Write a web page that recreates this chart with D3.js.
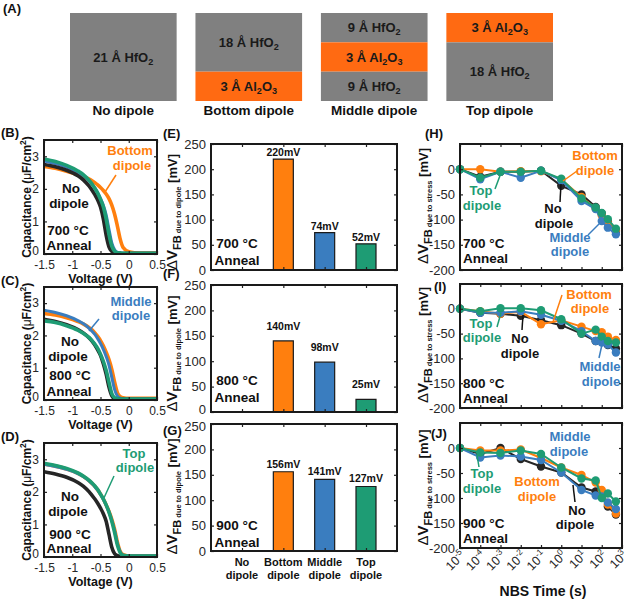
<!DOCTYPE html>
<html><head><meta charset="utf-8">
<script src="https://cdn.jsdelivr.net/npm/d3@7"></script>
<style>body{margin:0;background:#fff}svg text{font-family:"Liberation Sans",Arial,sans-serif}</style>
</head><body><svg id="c" width="631" height="601"></svg>
<script>
// ---------------- DATA ----------------
const dipoleTypes = ["No dipole","Bottom dipole","Middle dipole","Top dipole"];
const annealTemps = ["700 °C","800 °C","900 °C"];
const stackNames = ["No dipole","Bottom dipole","Middle dipole","Top dipole"];
const stackLayers = [
  [["HfO2",21]],
  [["HfO2",18],["Al2O3",3]],
  [["HfO2",9],["Al2O3",3],["HfO2",9]],
  [["Al2O3",3],["HfO2",18]]
];
const voltage = [-1.5,-1.3,-1.1,-0.9,-0.8,-0.7,-0.65,-0.6,-0.55,-0.5,-0.45,-0.4,-0.35,-0.3,-0.25,-0.2,-0.15,-0.1,0,0.1,0.3,0.5];
const cvTicksX = [-1.5,-1,-0.5,0,0.5];
const cvTicksY = [0,1,2,3];
// 700 °C
const cv700No     = [2.75,2.68,2.57,2.40,2.27,2.08,1.96,1.82,1.66,1.44,1.08,0.58,0.22,0.08,0.03,0.02,0.02,0.01,0.01,0.01,0.01,0.01];
const cv700Bottom = [2.69,2.63,2.54,2.43,2.37,2.30,2.25,2.19,2.12,2.04,1.95,1.84,1.70,1.50,1.22,0.85,0.45,0.20,0.07,0.04,0.03,0.03];
const cv700Middle = [2.86,2.78,2.67,2.51,2.40,2.24,2.14,2.02,1.88,1.70,1.50,1.20,0.76,0.34,0.13,0.05,0.03,0.02,0.02,0.02,0.02,0.02];
const cv700Top    = [2.92,2.84,2.72,2.55,2.43,2.26,2.15,2.02,1.87,1.68,1.45,1.08,0.60,0.24,0.09,0.04,0.03,0.02,0.02,0.02,0.02,0.02];
// 800 °C
const cv800No     = [2.50,2.43,2.33,2.18,2.07,1.92,1.82,1.70,1.55,1.38,1.12,0.80,0.40,0.13,0.04,0.02,0.02,0.02,0.02,0.02,0.02,0.02];
const cv800Bottom = [2.68,2.63,2.55,2.43,2.35,2.24,2.17,2.08,1.97,1.84,1.68,1.48,1.25,0.95,0.55,0.22,0.10,0.07,0.05,0.05,0.05,0.05];
const cv800Middle = [2.78,2.71,2.61,2.46,2.36,2.22,2.13,2.03,1.90,1.75,1.57,1.35,1.08,0.70,0.32,0.12,0.06,0.04,0.03,0.03,0.03,0.03];
const cv800Top    = [2.45,2.40,2.30,2.16,2.06,1.93,1.84,1.73,1.60,1.42,1.20,0.92,0.55,0.20,0.07,0.04,0.03,0.03,0.03,0.03,0.03,0.03];
// 900 °C
const cv900No     = [2.62,2.55,2.45,2.29,2.17,2.00,1.89,1.78,1.65,1.50,1.33,1.10,0.70,0.30,0.10,0.04,0.02,0.01,0.01,0.01,0.01,0.01];
const cv900Bottom = [2.86,2.79,2.70,2.57,2.47,2.34,2.26,2.17,2.06,1.93,1.78,1.60,1.40,1.16,0.85,0.45,0.17,0.07,0.03,0.03,0.03,0.03];
const cv900Middle = [2.85,2.78,2.69,2.56,2.46,2.33,2.25,2.16,2.05,1.92,1.77,1.59,1.38,1.12,0.80,0.40,0.15,0.06,0.03,0.03,0.03,0.03];
const cv900Top    = [2.88,2.81,2.72,2.58,2.48,2.35,2.27,2.18,2.07,1.93,1.78,1.60,1.38,1.10,0.75,0.36,0.13,0.05,0.03,0.03,0.03,0.03];

const shiftTicksY = [0,50,100,150,200,250];
const shift700 = [0,220,74,52];
const shift800 = [0,140,98,25];
const shift900 = [0,156,141,127];

const nbsTime = [1e-5,1e-4,1e-3,1e-2,1e-1,1,10,50,100,200,500];
const nbsTickExp = [-5,-4,-3,-2,-1,0,1,2,3];
const stressTicksY = [-200,-150,-100,-50,0];
const nbs700No     = [0,-15,-5,-5,-3,-33,-50,-75,-88,-104,-124];
const nbs700Bottom = [0,0,-5,-4,-4,-20,-55,-78,-92,-107,-121];
const nbs700Middle = [0,-20,-5,-17,-3,-22,-63,-79,-103,-116,-129];
const nbs700Top    = [0,-17,-5,-5,-3,-19,-58,-76,-87,-99,-118];
const nbs800No     = [0,-8,-10,-14,-23,-33,-50,-65,-66,-73,-80];
const nbs800Bottom = [0,-5,-10,-6,-31,-23,-36,-45,-47,-56,-63];
const nbs800Middle = [0,-8,-8,-5,-12,-24,-45,-65,-68,-72,-88];
const nbs800Top    = [0,-5,1,1,-3,-21,-50,-42,-56,-65,-68];
const nbs900No     = [0,-12,0,-22,-37,-49,-79,-87,-97,-117,-133];
const nbs900Bottom = [0,-5,-5,-3,-20,-39,-54,-69,-84,-113,-131];
const nbs900Middle = [0,-19,-15,-17,-24,-49,-84,-95,-97,-109,-122];
const nbs900Top    = [0,-9,-10,-5,-12,-39,-61,-65,-100,-91,-107];

// ---------------- STYLE ----------------
const COL = {no:"#262626", bottom:"#FF7F0E", middle:"#3A7DBF", top:"#1E9C74"};
const BOXORANGE = "#FF6A12", BOXGRAY = "#808080";
const svg = d3.select("#c");

function txt(x,y,s,o={}) {
  return svg.append("text").attr("x",x).attr("y",y).text(s)
    .attr("font-size",o.fs||13).attr("font-weight",o.fw||"bold")
    .attr("fill",o.c||"#111").attr("text-anchor",o.a||"middle");
}
function rich(sel, parts) {
  parts.forEach(p => {
    const t = sel.append("tspan").text(p[0]);
    if (p[1]) t.attr("font-size", p[1]);
    if (p[2]) t.attr("dy", p[2]);
    if (p[3]) t.attr("font-weight", p[3]);
  });
  return sel;
}
function chemParts(th, mat, fs) {
  const sub = fs*0.7;
  if (mat === "HfO2") return [[th+" Å HfO",fs],["2",sub,3],["",fs,-3]];
  return [[th+" Å Al",fs],["2",sub,3],["O",fs,-3],["3",sub,3],["",fs,-3]];
}
function panelLetter(x,y,s){ txt(x,y,s,{fs:13,a:"start"}); }

// ---------------- PANEL A ----------------
panelLetter(3,13,"(A)");
const stackX = d3.scaleBand().domain(stackNames).range([70,553]).paddingInner(0.15);
const boxTop = 13, boxH = 88;
stackNames.forEach((name,i) => {
  const layers = stackLayers[i];
  const hasAl = layers.some(l => l[0]==="Al2O3");
  const hfTotal = d3.sum(layers.filter(l=>l[0]==="HfO2"), l=>l[1]);
  let yy = boxTop;
  layers.forEach(l => {
    const h = l[0]==="Al2O3" ? boxH/3 : (hasAl ? boxH*2/3 : boxH) * l[1]/hfTotal;
    svg.append("rect").attr("x",stackX(name)).attr("y",yy).attr("width",stackX.bandwidth()).attr("height",h)
      .attr("fill", l[0]==="Al2O3" ? BOXORANGE : BOXGRAY);
    const t = svg.append("text").attr("x",stackX(name)+stackX.bandwidth()/2).attr("y",yy+h/2+4.5)
      .attr("text-anchor","middle").attr("font-weight","bold").attr("fill","#1a1a1a");
    rich(t, chemParts(l[1], l[0], 13));
    yy += h;
  });
  txt(stackX(name)+stackX.bandwidth()/2, 115, name, {fs:13.5});
});

// ---------------- helpers for framed axes ----------------
function frameAxes(g, x, y, w, h, xt, yt, o) {
  const fs = o.fs || 12.5;
  g.append("g").attr("transform",`translate(0,${h})`)
    .call(d3.axisBottom(x).tickValues(xt).tickSize(-3).tickPadding(o.xPad||6).tickFormat(o.xFmt || (()=>"")));
  g.append("g").call(d3.axisTop(x).tickValues(xt).tickSize(-3).tickFormat(()=>""));
  const ya = g.append("g").call(d3.axisLeft(y).tickValues(yt).tickSize(-3).tickPadding(o.yPad||5).tickFormat(o.yFmt || (d=>String(d))));
  g.append("g").attr("transform",`translate(${w},0)`).call(d3.axisRight(y).tickValues(yt).tickSize(-3).tickFormat(()=>""));
  g.selectAll(".domain").remove();
  g.selectAll(".tick line").attr("stroke","#222").attr("stroke-width",1.2);
  g.selectAll(".tick text").attr("font-size",fs).attr("fill","#262626").attr("font-family",'"Liberation Sans",Arial,sans-serif');
  (o.dyFix||[]).forEach(f => ya.selectAll(".tick text").filter(d => d === f[0]).attr("dy", f[1]));
  g.append("rect").attr("width",w).attr("height",h).attr("fill","none").attr("stroke","#1a1a1a").attr("stroke-width",2);
}

// ---------------- CV PANELS (B,C,D) ----------------
const cvPanels = [
  {L:"(B)",lx:1,ly:137,x:44,y:140,w:113,h:114,curves:[cv700No,cv700Bottom,cv700Middle,cv700Top]},
  {L:"(C)",lx:1,ly:285,x:44,y:287,w:113,h:113,curves:[cv800No,cv800Bottom,cv800Middle,cv800Top]},
  {L:"(D)",lx:1,ly:441,x:44,y:443,w:113,h:114,curves:[cv900No,cv900Bottom,cv900Middle,cv900Top]}
];
const keys = ["no","bottom","middle","top"];
cvPanels.forEach((p,pi) => {
  panelLetter(p.lx,p.ly,p.L);
  const g = svg.append("g").attr("transform",`translate(${p.x},${p.y})`);
  const x = d3.scaleLinear().domain([-1.5,0.5]).range([0,p.w]);
  const y = d3.scaleLinear().domain([0,3.5]).range([p.h,0]);
  const cid = "cvclip"+pi;
  g.append("clipPath").attr("id",cid).append("rect").attr("width",p.w).attr("height",p.h);
  const line = d3.line().x((d,i)=>x(voltage[i])).y(d=>y(d)).curve(d3.curveMonotoneX);
  [1,2,0,3].forEach(k => {
    g.append("path").datum(p.curves[k]).attr("d",line).attr("fill","none")
      .attr("stroke",COL[keys[k]]).attr("stroke-width",k===2?3:3.6).attr("clip-path",`url(#${cid})`);
  });
  frameAxes(g,x,y,p.w,p.h,cvTicksX,cvTicksY,{xFmt:d=>String(d),fs:12,xPad:6,yPad:5,dyFix:[[0,"0em"]]});
  txt(p.x+p.w/2, p.y+p.h+29, "Voltage (V)", {fs:12.5});
  const yl = svg.append("text").attr("transform",`translate(31,${p.y+p.h/2}) rotate(-90)`)
    .attr("text-anchor","middle").attr("font-weight","bold").attr("font-size",12).attr("fill","#111");
  rich(yl, [["Capacitance (",12],["μ",12,0,"normal"],["F/cm",12,0,"bold"],["2",8.5,-5],[")",12,5]]);
});
// CV annotations
txt(130,155,"Bottom",{c:COL.bottom}); txt(132,170,"dipole",{c:COL.bottom});
svg.append("line").attr("x1",105).attr("y1",192).attr("x2",116).attr("y2",175).attr("stroke",COL.bottom).attr("stroke-width",1.5);
txt(71,193,"No",{fs:13.5}); txt(69,208,"dipole",{fs:13.5});
txt(68,235,annealTemps[0],{fs:13.5}); txt(69,250,"Anneal",{fs:13.5});

txt(131,306,"Middle",{c:COL.middle}); txt(131,320,"dipole",{c:COL.middle});
svg.append("line").attr("x1",89).attr("y1",331).attr("x2",99).attr("y2",319).attr("stroke",COL.middle).attr("stroke-width",1.5);
txt(70,346,"No",{fs:13.5}); txt(68,361,"dipole",{fs:13.5});
txt(70,380,annealTemps[1],{fs:13.5}); txt(69,396,"Anneal",{fs:13.5});

txt(134,458,"Top",{c:COL.top}); txt(135,472,"dipole",{c:COL.top});
svg.append("line").attr("x1",103).attr("y1",500).attr("x2",114).attr("y2",476).attr("stroke",COL.top).attr("stroke-width",1.5);
txt(70,501,"No",{fs:13.5}); txt(68,516,"dipole",{fs:13.5});
txt(70,539,annealTemps[2],{fs:13.5}); txt(69,553,"Anneal",{fs:13.5});

// ---------------- BAR PANELS (E,F,G) ----------------
const barPanels = [
  {L:"(E)",lx:163,ly:138,x:211,y:144,w:186,h:126,vals:shift700,off:3,ty:248,dyFix:[]},
  {L:"(F)",lx:163,ly:278,x:211,y:285,w:186,h:127,vals:shift800,off:11,ty:385,dyFix:[[0,"0.1em"]]},
  {L:"(G)",lx:163,ly:435,x:211,y:424,w:186,h:127,vals:shift900,off:4,ty:530,dyFix:[[250,"0.5em"]]}
];
barPanels.forEach((p,pi) => {
  panelLetter(p.lx,p.ly,p.L);
  const g = svg.append("g").attr("transform",`translate(${p.x},${p.y})`);
  const x = d3.scaleLinear().domain([0.25,4.75]).range([0,p.w]);
  const y = d3.scaleLinear().domain([0,250]).range([p.h,0]);
  const bw = 20;
  p.vals.forEach((v,i) => {
    const cx = x(i+1);
    g.append("path").attr("d",`M${cx-bw/2},${y(0)}H${cx+bw/2}V${y(v)}H${cx-bw/2}Z`)
      .attr("fill",COL[keys[i]]).attr("stroke","#1a1a1a").attr("stroke-width",1.2);
    if (v>0) g.append("text").attr("x",cx).attr("y",y(v)-p.off).attr("text-anchor","middle")
      .attr("font-size",10.5).attr("font-weight","bold").attr("fill","#111").text(v+"mV");
  });
  frameAxes(g,x,y,p.w,p.h,[1,2,3,4],shiftTicksY,{fs:13,dyFix:p.dyFix});
  txt(237,p.ty,annealTemps[pi],{fs:13.5}); txt(237,p.ty+17,"Anneal",{fs:13.5});
  const yl = svg.append("text").attr("transform",`translate(177,${p.y+p.h/2+(pi===2?9:5)}) rotate(-90)`)
    .attr("text-anchor","middle").attr("font-weight","bold").attr("fill","#111");
  rich(yl, [["Δ",15,0,"normal"],["V",15,0,"bold"],["FB",11,4],[" due to dipole",7.5],[" [mV]",13,-4]]);
  if (pi===2) {
    dipoleTypes.forEach((d,i) => {
      const parts = d.split(" ");
      txt(p.x+x(i+1), 566, parts[0], {fs:11}); txt(p.x+x(i+1), 579, parts[1], {fs:11});
    });
  }
});

// ---------------- STRESS PANELS (H,I,J) ----------------
const stressPanels = [
  {L:"(H)",lx:425,ly:138,x:460,y:144,w:162,h:126,sets:[nbs700No,nbs700Bottom,nbs700Middle,nbs700Top],ty:248},
  {L:"(I)",lx:434,ly:291,x:460,y:284,w:162,h:124,sets:[nbs800No,nbs800Bottom,nbs800Middle,nbs800Top],ty:388},
  {L:"(J)",lx:431,ly:438,x:460,y:423,w:162,h:125,sets:[nbs900No,nbs900Bottom,nbs900Middle,nbs900Top],ty:528}
];
stressPanels.forEach((p,pi) => {
  const g = svg.append("g").attr("transform",`translate(${p.x},${p.y})`);
  const x = d3.scaleLog().domain([1e-5,1e3]).range([0,p.w]);
  const y = d3.scaleLinear().domain([-200,50]).range([p.h,0]);
  const line = d3.line().x((d,i)=>x(nbsTime[i])).y(d=>y(d));
  [0,1,2,3].forEach(k => {
    g.append("path").datum(p.sets[k]).attr("d",line).attr("fill","none").attr("stroke",COL[keys[k]]).attr("stroke-width",2);
    g.selectAll(null).data(p.sets[k]).enter().append("circle")
      .attr("cx",(d,i)=>x(nbsTime[i])).attr("cy",d=>y(d)).attr("r",4.2).attr("fill",COL[keys[k]]);
  });
  frameAxes(g,x,y,p.w,p.h,nbsTickExp.map(e=>Math.pow(10,e)),stressTicksY,{fs:13});
  txt(463,p.ty,annealTemps[pi],{fs:13.5,a:"start"}); txt(463,p.ty+15,"Anneal",{fs:13.5,a:"start"});
  const yl = svg.append("text").attr("transform",`translate(428,${p.y+p.h/2+(pi===2?2:-1)}) rotate(-90)`)
    .attr("text-anchor","middle").attr("font-weight","bold").attr("fill","#111");
  rich(yl, [["Δ",15,0,"normal"],["V",15,0,"bold"],["FB",11,4],[" due to stress",7.5],[" [mV]",13,-4]]);
  panelLetter(p.lx,p.ly,p.L);
  if (pi===2) {
    nbsTickExp.forEach(e => {
      const tx = p.x + x(Math.pow(10,e)), ty = p.y + p.h;
      const t = svg.append("text").attr("transform",`translate(${tx+6},${ty+8}) rotate(-45)`)
        .attr("text-anchor","end").attr("fill","#262626");
      rich(t, [["10",12.5],[String(e),8.5,-5]]);
    });
    txt(543,596,"NBS Time (s)",{fs:14});
  }
});
function pl(x1,y1,x2,y2,c){ svg.append("line").attr("x1",x1).attr("y1",y1).attr("x2",x2).attr("y2",y2).attr("stroke",c).attr("stroke-width",1.5); }
// H annotations
txt(595,160,"Bottom",{c:COL.bottom}); txt(595,175,"dipole",{c:COL.bottom}); pl(577,171,563,181,COL.bottom);
txt(481,195,"Top",{c:COL.top}); txt(482,210,"dipole",{c:COL.top}); pl(495,189,501,173,COL.top);
txt(553,213,"No",{c:"#111"}); txt(554,228,"dipole",{c:"#111"}); pl(560,202,561,184,"#111");
txt(570,242,"Middle",{c:COL.middle}); txt(570,256,"dipole",{c:COL.middle}); pl(588,235,600,223,COL.middle);
// I annotations
txt(589,299,"Bottom",{c:COL.bottom}); txt(590,313,"dipole",{c:COL.bottom}); pl(562,295,553,322,COL.bottom);
txt(481,328,"Top",{c:COL.top}); txt(482,342,"dipole",{c:COL.top}); pl(497,327,501,313,COL.top);
txt(520,343,"No",{c:"#111"}); txt(520,358,"dipole",{c:"#111"}); pl(522,330,523,315,"#111");
txt(600,371,"Middle",{c:COL.middle}); txt(601,386,"dipole",{c:COL.middle}); pl(599,358,603,340,COL.middle);
// J annotations
txt(570,441,"Middle",{c:COL.middle}); txt(569,456,"dipole",{c:COL.middle});
txt(482,478,"Top",{c:COL.top}); txt(482,493,"dipole",{c:COL.top}); pl(479,467,477,455,COL.top);
txt(537,486,"Bottom",{c:COL.bottom}); txt(537,501,"dipole",{c:COL.bottom});
txt(577,515,"No",{c:"#111"}); txt(575,529,"dipole",{c:"#111"}); pl(575,502,573,485,"#111");
</script></body></html>
